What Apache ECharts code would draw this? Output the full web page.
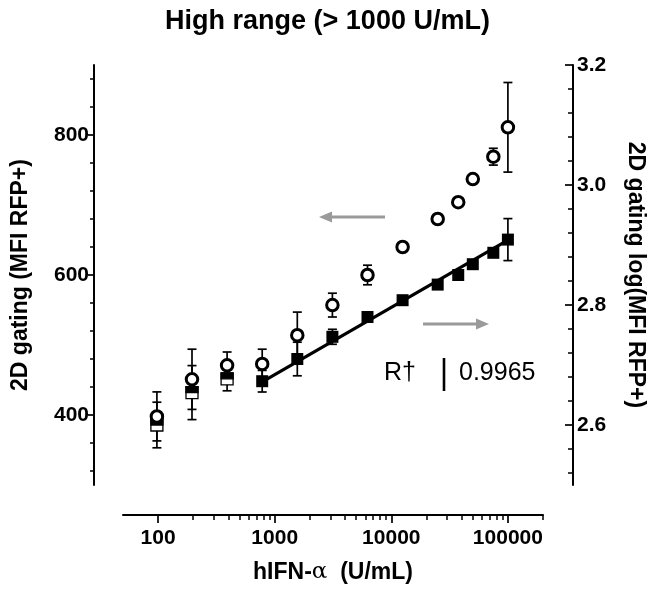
<!DOCTYPE html>
<html>
<head>
<meta charset="utf-8">
<script src="https://cdn.jsdelivr.net/npm/echarts@6/dist/echarts.min.js"></script>
<style>
html,body{margin:0;padding:0;background:#fff;}
#chart{width:655px;height:597px;}
</style>
</head>
<body>
<div id="chart"></div>
<script>
// ---- data ----
var doses = [97.66, 195.3, 390.6, 781.25, 1562.5, 3125, 6250, 12500, 25000, 37500, 50000, 75000, 100000];
var mfi = [398, 451, 471, 473, 514, 557, 600, 640, 680, 704, 737, 769, 811];            // open circles, left axis
var mfiErr = [35, 43, 19, 21, 33, 17, 14, 0, 6, 0, 0, 12, 64];
var logMfi = [2.600, 2.654, 2.677, 2.673, 2.710, 2.747, 2.780, 2.808, 2.834, 2.850, 2.868, 2.887, 2.909]; // squares, right axis
var logMfiErr = [0.038, 0.045, 0.020, 0.018, 0.028, 0.0125, 0, 0, 0, 0, 0, 0, 0.035];
var fitStart = 3; // first point used in the fit (>= ~800 U/mL)
var fitX = [781.25, 100000];
var fitY = [2.672, 2.908];

// axis ticks / labels
var xRange = [50, 200000];
var xMajor = [100, 1000, 10000, 100000];
var xMinor = [200,300,400,500,600,700,800,900,2000,3000,4000,5000,6000,7000,8000,9000,
              20000,30000,40000,50000,60000,70000,80000,90000,200000];
var leftRange = [300, 900];
var leftLabels = [400, 600, 800];
var leftTicks = [320,360,440,480,520,560,640,680,720,760,840,880];
var rightRange = [2.5, 3.2];
var rightLabels = [2.6, 2.8, 3.0, 3.2];
var rightTicks = [2.52,2.56,2.64,2.68,2.72,2.76,2.84,2.88,2.92,2.96,3.04,3.08,3.12,3.16];

var FONT = '"Liberation Sans", Arial, Helvetica, sans-serif';
function lg(v){ return Math.log10(v); }

var circleData = doses.map(function(d,i){ return [lg(d), mfi[i]]; });
var circleErrData = doses.map(function(d,i){ return [lg(d), mfi[i], mfiErr[i]]; });
var sqLowData = [], sqFitData = [];
doses.forEach(function(d,i){
  if (i < fitStart) sqLowData.push([lg(d), logMfi[i]]);
  else sqFitData.push([lg(d), logMfi[i]]);
});
var sqErrData = doses.map(function(d,i){ return [lg(d), logMfi[i], logMfiErr[i]]; });
var fitData = fitX.map(function(x,i){ return [lg(x), fitY[i]]; });

function errRender(params, api){
  var x = api.value(0), y = api.value(1), e = api.value(2);
  if (!e) return null;
  var top = api.coord([x, y + e]);
  var bot = api.coord([x, y - e]);
  var hw = 4.5;
  var st = {stroke:'#000', lineWidth:1.7, fill:null};
  return {type:'group', children:[
    {type:'line', shape:{x1:top[0],y1:top[1],x2:bot[0],y2:bot[1]}, style:st},
    {type:'line', shape:{x1:top[0]-hw,y1:top[1],x2:top[0]+hw,y2:top[1]}, style:st},
    {type:'line', shape:{x1:bot[0]-hw,y1:bot[1],x2:bot[0]+hw,y2:bot[1]}, style:st}
  ]};
}
function halfSquareRender(params, api){
  var p = api.coord([api.value(0), api.value(1)]);
  var s = 12;
  return {type:'group', children:[
    {type:'rect', shape:{x:p[0]-s/2, y:p[1]-s/2, width:s, height:s}, style:{fill:'#fff', stroke:'#000', lineWidth:1.3}},
    {type:'rect', shape:{x:p[0]-s/2, y:p[1]-s/2, width:s, height:s/2}, style:{fill:'#000', stroke:'#000', lineWidth:1.3}}
  ]};
}

var labelStyle = {color:'#000', fontFamily:FONT, fontWeight:'bold', fontSize:21};
var nameStyle = {color:'#000', fontFamily:FONT, fontWeight:'bold', fontSize:23};

var chart = echarts.init(document.getElementById('chart'), null, {renderer:'canvas'});
chart.setOption({
  backgroundColor:'#fff',
  animation:false,
  title:{text:'High range (> 1000 U/mL)', left:'center', top:3,
    textStyle:{fontFamily:FONT, fontWeight:'bold', fontSize:27, color:'#000'}},
  grid:{left:123, right:112, top:65, bottom:112, containLabel:false, outerBoundsMode:'none'},
  xAxis:[
    {type:'value', min:lg(xRange[0]), max:lg(xRange[1]), position:'bottom', offset:30,
     splitLine:{show:false},
     axisLine:{show:true, onZero:false, lineStyle:{color:'#000', width:2}},
     axisTick:{show:true, customValues:xMajor.map(lg), length:8, inside:false, lineStyle:{color:'#000', width:1.7}},
     axisLabel:{show:true, customValues:xMajor.map(lg), margin:13,
       formatter:function(v){ return String(Math.round(Math.pow(10, v))); },
       color:'#000', fontFamily:FONT, fontWeight:'bold', fontSize:21},
     name:'{b|hIFN-}{a|α}{b|  (U/mL)}', nameLocation:'middle', nameGap:46,
     nameTextStyle:{rich:{
       b:{fontFamily:FONT, fontWeight:'bold', fontSize:23, color:'#000'},
       a:{fontFamily:'"DejaVu Serif", "Liberation Serif", serif', fontSize:23, color:'#000'}}}
    },
    {type:'value', min:lg(xRange[0]), max:lg(xRange[1]), position:'bottom', offset:30,
     splitLine:{show:false}, axisLine:{show:false},
     axisTick:{show:true, customValues:xMinor.map(lg), length:5, lineStyle:{color:'#000', width:1.5}},
     axisLabel:{show:false}}
  ],
  yAxis:[
    {type:'value', min:leftRange[0], max:leftRange[1], position:'left', offset:29,
     splitLine:{show:false},
     axisLine:{show:true, onZero:false, lineStyle:{color:'#000', width:2}},
     axisTick:{show:true, customValues:leftLabels, length:6, lineStyle:{color:'#000', width:1.7}},
     axisLabel:Object.assign({customValues:leftLabels, margin:5}, labelStyle),
     name:'2D gating (MFI RFP+)', nameLocation:'middle', nameGap:62, nameRotate:90,
     nameTextStyle:nameStyle},
    {type:'value', min:rightRange[0], max:rightRange[1], position:'right', offset:30,
     splitLine:{show:false},
     axisLine:{show:true, onZero:false, lineStyle:{color:'#000', width:2}},
     axisTick:{show:true, inside:true, customValues:rightLabels, length:8, lineStyle:{color:'#000', width:1.7}},
     axisLabel:Object.assign({customValues:rightLabels, margin:4,
       formatter:function(v){ return v.toFixed(1); }}, labelStyle),
     name:'2D gating log(MFI RFP+)', nameLocation:'middle', nameGap:51, nameRotate:-90,
     nameTextStyle:nameStyle},
    {type:'value', min:leftRange[0], max:leftRange[1], position:'left', offset:29,
     splitLine:{show:false}, axisLine:{show:false},
     axisTick:{show:true, customValues:leftTicks, length:4, lineStyle:{color:'#000', width:1.5}},
     axisLabel:{show:false}},
    {type:'value', min:rightRange[0], max:rightRange[1], position:'right', offset:30,
     splitLine:{show:false}, axisLine:{show:false},
     axisTick:{show:true, inside:true, customValues:rightTicks, length:5, lineStyle:{color:'#000', width:1.5}},
     axisLabel:{show:false}}
  ],
  graphic:[
    // left-pointing gray arrow (circles -> left axis)
    {type:'line', shape:{x1:385, y1:217, x2:330, y2:217}, style:{stroke:'#9a9a9a', lineWidth:3}},
    {type:'polygon', shape:{points:[[319,217],[332,211.5],[332,222.5]]}, style:{fill:'#9a9a9a'}},
    // right-pointing gray arrow (squares -> right axis)
    {type:'line', shape:{x1:423, y1:324, x2:478, y2:324}, style:{stroke:'#9a9a9a', lineWidth:3}},
    {type:'polygon', shape:{points:[[489,324],[476,318.5],[476,329.5]]}, style:{fill:'#9a9a9a'}},
    {type:'text', left:384, top:361, style:{text:'R†', fontFamily:FONT, fontSize:25, fill:'#000'}},
    {type:'line', shape:{x1:444, y1:358, x2:444, y2:391}, style:{stroke:'#000', lineWidth:2.6}},
    {type:'text', left:459, top:361, style:{text:'0.9965', fontFamily:FONT, fontSize:25, fill:'#000'}}
  ],
  series:[
    {type:'custom', name:'sqErr', xAxisIndex:0, yAxisIndex:1, data:sqErrData, renderItem:errRender, z:2, silent:true},
    {type:'custom', name:'circErr', xAxisIndex:0, yAxisIndex:0, data:circleErrData, renderItem:errRender, z:2, silent:true},
    {type:'line', name:'fit', xAxisIndex:0, yAxisIndex:1, data:fitData, showSymbol:false, symbol:'none',
     lineStyle:{color:'#000', width:3.2, opacity:1}, z:3, silent:true},
    {type:'custom', name:'lowSquares', xAxisIndex:0, yAxisIndex:1, data:sqLowData, renderItem:halfSquareRender, z:3, silent:true},
    {type:'scatter', name:'fitSquares', xAxisIndex:0, yAxisIndex:1, data:sqFitData, symbol:'rect', symbolSize:12,
     itemStyle:{color:'#000', opacity:1}, z:4, silent:true},
    {type:'scatter', name:'circles', xAxisIndex:0, yAxisIndex:0, data:circleData, symbol:'circle', symbolSize:11.5,
     itemStyle:{color:'#fff', borderColor:'#000', borderWidth:3, opacity:1}, z:5, silent:true}
  ]
});
</script>
</body>
</html>
